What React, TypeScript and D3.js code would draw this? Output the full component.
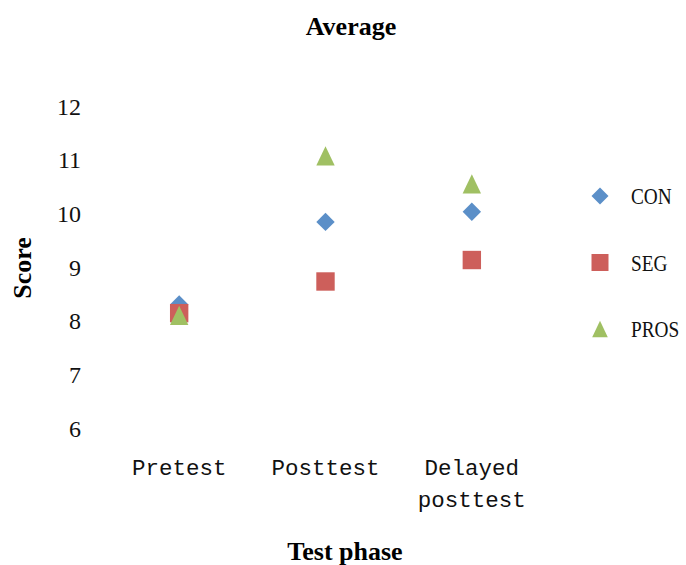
import React from "react";
import * as d3 from "d3";

const phases = ["Pretest", "Posttest", "Delayed posttest"];
const conScores = [8.3, 9.84, 10.03];
const segScores = [8.14, 8.73, 9.13];
const prosScores = [8.1, 11.07, 10.55];
const yTicks = [6, 7, 8, 9, 10, 11, 12];
const seriesNames = ["CON", "SEG", "PROS"];

const W = 686;
const H = 565;

const colors: Record<string, string> = {
  CON: "#5B8FC8",
  SEG: "#CD5F5B",
  PROS: "#A0C063",
};

// marker outline for each series, centred on (0,0), with half-size r
function markerPath(name: string, r: number): string {
  const p = d3.path();
  if (name === "CON") {
    p.moveTo(0, -r);
    p.lineTo(r, 0);
    p.lineTo(0, r);
    p.lineTo(-r, 0);
    p.closePath();
  } else if (name === "SEG") {
    p.rect(-r, -r, 2 * r, 2 * r);
  } else {
    p.moveTo(0, -r * 1.05);
    p.lineTo(r, r * 1.05);
    p.lineTo(-r, r * 1.05);
    p.closePath();
  }
  return p.toString();
}

function Marker({ name, x, y, r }: { name: string; x: number; y: number; r: number }) {
  return (
    <path
      d={markerPath(name, r)}
      transform={`translate(${x},${y})`}
      fill={colors[name]}
      stroke="none"
    />
  );
}

export default function App() {
  const x = d3.scaleBand<string>().domain(phases).range([106, 545]);
  const y = d3.scaleLinear().domain([6, 12]).range([428, 106]);

  const series = [
    { name: "CON", values: conScores },
    { name: "SEG", values: segScores },
    { name: "PROS", values: prosScores },
  ];

  const legendY = d3.scalePoint<string>().domain(seriesNames).range([196, 329]);

  return (
    <svg
      width={W}
      height={H}
      style={{ position: "absolute", left: 0, top: 0, background: "#fff" }}
    >
      <text
        x={351}
        y={35}
        textAnchor="middle"
        fontFamily="Liberation Serif"
        fontWeight="bold"
        fontSize={26}
      >
        Average
      </text>

      {yTicks.map((t) => (
        <text
          key={t}
          x={81}
          y={y(t)}
          dy="0.36em"
          textAnchor="end"
          fontFamily="Liberation Serif"
          fontSize={24}
          fill="#111"
        >
          {t}
        </text>
      ))}

      <text
        transform={`translate(31,${268}) rotate(-90)`}
        textAnchor="middle"
        fontFamily="Liberation Serif"
        fontWeight="bold"
        fontSize={26}
      >
        Score
      </text>

      {phases.map((p) => {
        const cx = (x(p) || 0) + x.bandwidth() / 2;
        const words = p === "Delayed posttest" ? ["Delayed", "posttest"] : [p];
        return (
          <text
            key={p}
            x={cx}
            y={475}
            textAnchor="middle"
            fontFamily="Liberation Mono"
            fontSize={22.5}
            fill="#111"
          >
            {words.map((w, i) => (
              <tspan key={w} x={cx} dy={i === 0 ? 0 : 32}>
                {w}
              </tspan>
            ))}
          </text>
        );
      })}

      <text
        x={345}
        y={560}
        textAnchor="middle"
        fontFamily="Liberation Serif"
        fontWeight="bold"
        fontSize={26}
      >
        Test phase
      </text>

      {series.map((s) =>
        s.values.map((v, i) => (
          <Marker
            key={`${s.name}-${i}`}
            name={s.name}
            x={(x(phases[i]) || 0) + x.bandwidth() / 2}
            y={y(v)}
            r={9.2}
          />
        ))
      )}

      {seriesNames.map((n) => (
        <g key={n}>
          <Marker name={n} x={600} y={legendY(n) || 0} r={n === "PROS" ? 7.8 : 8.5} />
          <text
            x={631}
            y={legendY(n) || 0}
            dy="0.36em"
            fontFamily="Liberation Serif"
            fontSize={23}
            fill="#111"
            transform={`translate(${631 * 0.16},0) scale(0.84,1)`}
          >
            {n}
          </text>
        </g>
      ))}
    </svg>
  );
}
